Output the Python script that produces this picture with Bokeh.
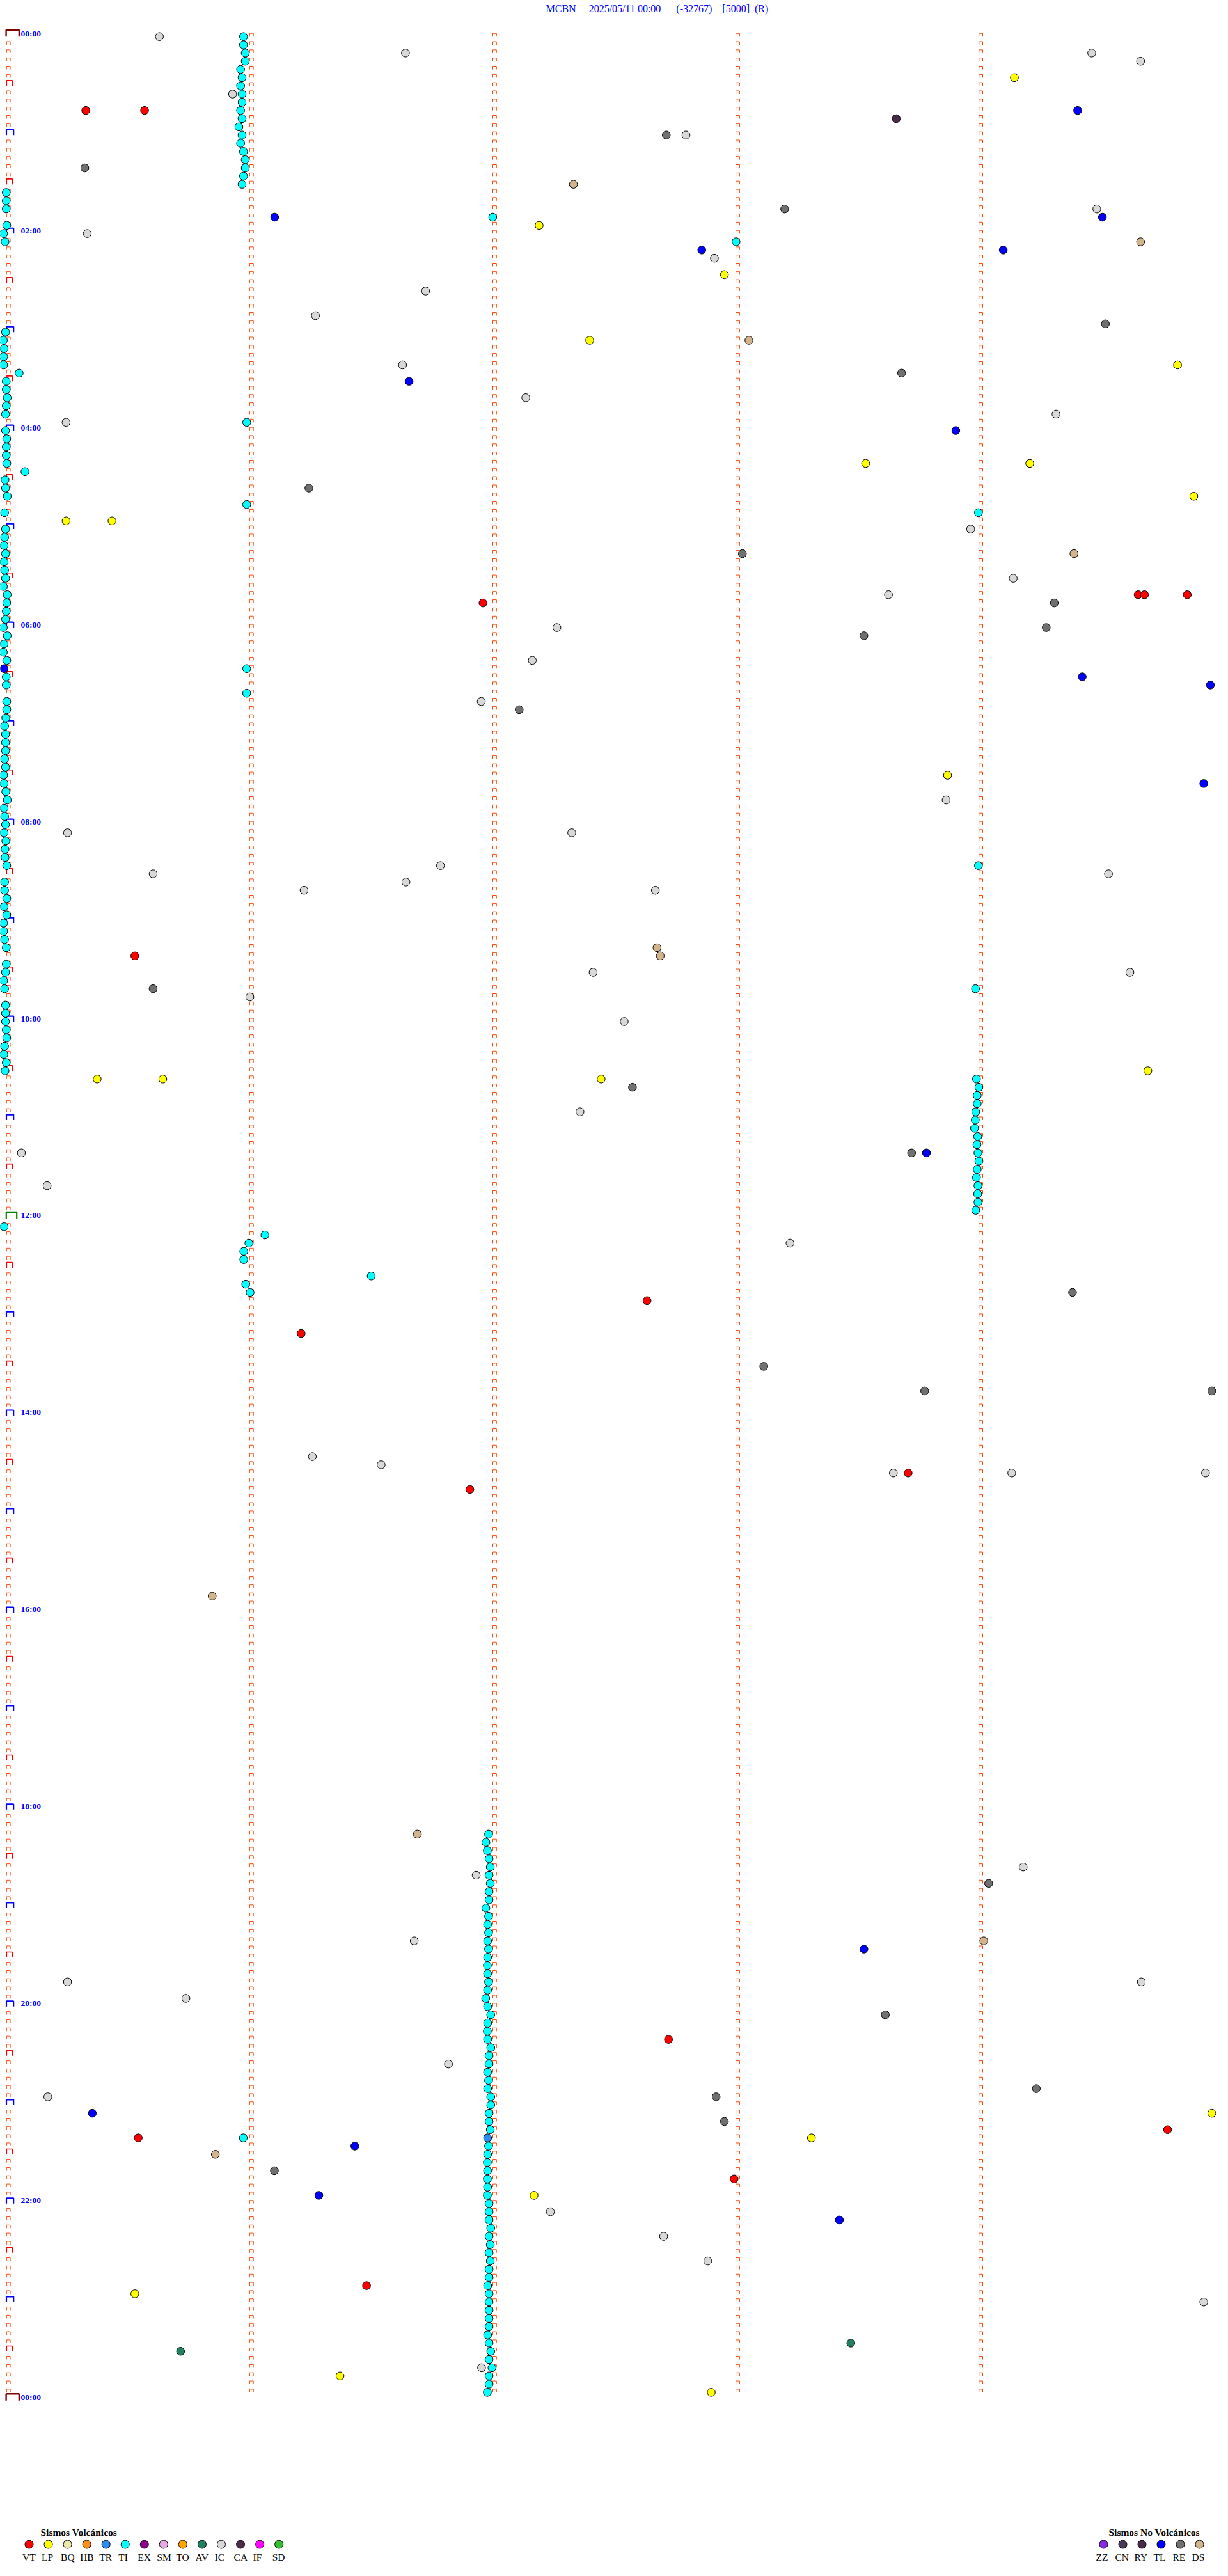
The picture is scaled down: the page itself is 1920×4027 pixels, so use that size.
from bokeh.plotting import figure
from bokeh.models import Range1d
from bokeh.embed import file_html
from bokeh.resources import INLINE
from bokeh.core.properties import value

# ---------------- data ----------------
TITLE = ("MCBN" + "\u00a0" * 5 + "2025/05/11 00:00" + "\u00a0" * 6 + "(-32767)"
         + "\u00a0" * 4 + "[5000]" + "\u00a0" * 2 + "(R)")
TIME_LABELS = ["00:00", "02:00", "04:00", "06:00", "08:00", "10:00", "12:00",
               "14:00", "16:00", "18:00", "20:00", "22:00", "00:00"]
MINUTE_MARKS = [0, 1, 2, 3, 4]

VOLC_CODES = ["VT", "LP", "BQ", "HB", "TR", "TI", "EX", "SM", "TO", "AV", "IC", "CA", "IF", "SD"]
VOLC_COLORS = ["#FF0000", "#FFFF00", "#EEE8AA", "#FF8C1A", "#2A8CF0", "#00FFFF", "#8B008B",
               "#E8A8E8", "#FFA500", "#208060", "#D8D8D8", "#4A2A48", "#FF00FF", "#30C030"]
NOVOLC_CODES = ["ZZ", "CN", "RY", "TL", "RE", "DS"]
NOVOLC_COLORS = ["#8A2BE2", "#4A3A5A", "#4A2A48", "#0000FF", "#707070", "#D2B48C"]

# row start time (HH:MM) and minute offset inside the 5-minute row
TI_T = ["00:00", "00:05", "00:10", "00:15", "00:20", "00:25", "00:30", "00:35", "00:40", "00:45",
        "00:50", "00:55", "01:00", "01:05", "01:10", "01:15", "01:20", "01:25", "01:30",
        "01:35", "01:40", "01:45", "01:55", "02:00", "02:05", "03:00", "03:05", "03:10", "03:15",
        "03:20", "03:25", "03:30", "03:35", "03:40", "03:45", "03:50", "04:00", "04:05", "04:10",
        "04:15", "04:20", "04:25", "04:30", "04:35", "04:40", "04:50", "05:00", "05:05", "05:10",
        "05:15", "05:20", "05:25", "05:30", "05:35", "05:40", "05:45", "05:50", "05:55", "06:00",
        "06:05", "06:10", "06:15", "06:20", "06:30", "06:35", "06:45", "06:50", "06:55", "07:00",
        "07:05", "07:10", "07:15", "07:20", "07:25", "07:30", "07:35", "07:40", "07:45", "07:50",
        "07:55", "08:00", "08:05", "08:10", "08:15", "08:20", "08:25", "08:35", "08:40", "08:45",
        "08:50", "08:55", "09:00", "09:05", "09:10", "09:15", "09:25", "09:30", "09:35", "09:40",
        "09:50", "09:55", "10:00", "10:05", "10:10", "10:15", "10:20", "10:25", "10:30", "12:05",
        "03:55", "04:45", "06:25", "06:40", "12:10", "12:15", "12:20", "12:25", "12:35", "12:40",
        "12:45", "21:20", "01:50", "02:05", "04:50", "08:25", "09:40",
        "10:35", "10:40", "10:45", "10:50", "10:55", "11:00", "11:05", "11:10", "11:15", "11:20",
        "11:25", "11:30", "11:35", "11:40", "11:45", "11:50", "11:55",
        "18:15", "18:20", "18:25", "18:30", "18:35", "18:40", "18:45", "18:50", "18:55", "19:00",
        "19:05", "19:10", "19:15", "19:20", "19:25", "19:30", "19:35", "19:40", "19:45", "19:50",
        "19:55", "20:00", "20:05", "20:10", "20:15", "20:20", "20:25", "20:30", "20:35", "20:40",
        "20:45", "20:50", "20:55", "21:00", "21:05", "21:10", "21:15", "21:25", "21:30", "21:35",
        "21:40", "21:45", "21:50", "21:55", "22:00", "22:05", "22:10", "22:15", "22:20", "22:25",
        "22:30", "22:35", "22:40", "22:45", "22:50", "22:55", "23:00", "23:05", "23:10", "23:15",
        "23:20", "23:25", "23:30", "23:35", "23:40", "23:45", "23:50", "23:55"]
TI_M = [0.967, 0.967, 0.974, 0.974, 0.955, 0.961, 0.955, 0.961, 0.961, 0.955,
        0.961, 0.948, 0.961, 0.955, 0.967, 0.974, 0.974, 0.967, 0.961,
        -0.009, -0.009, -0.009, -0.007, -0.020, -0.014, -0.012, -0.021, -0.018, -0.020,
        -0.020, 0.044, -0.009, -0.009, -0.005, -0.009, -0.012, -0.012, -0.007, -0.009,
        -0.009, -0.007, 0.068, -0.014, -0.012, -0.005, -0.016, -0.012, -0.016, -0.018,
        -0.012, -0.018, -0.016, -0.012, -0.021, -0.005, -0.007, -0.009, -0.012, -0.021,
        -0.005, -0.018, -0.021, -0.007, -0.009, -0.009, -0.007, -0.007, -0.011, -0.016,
        -0.012, -0.012, -0.012, -0.016, -0.012, -0.020, -0.018, -0.011, -0.005, -0.018,
        -0.016, -0.012, -0.018, -0.011, -0.014, -0.014, -0.007, -0.016, -0.016, -0.007,
        -0.018, -0.007, -0.020, -0.020, -0.016, -0.009, -0.009, -0.012, -0.020, -0.016,
        -0.012, -0.012, -0.012, -0.009, -0.007, -0.016, -0.019, -0.009, -0.014, -0.018,
        0.980, 0.980, 0.980, 0.980, 1.055, 0.989, 0.968, 0.968, 1.492, 0.976,
        0.994, 0.966, 1.992, 2.993, 3.990, 3.990, 3.978,
        3.982, 3.992, 3.985, 3.985, 3.979, 3.977, 3.974, 3.987, 3.984, 3.988,
        3.992, 3.985, 3.982, 3.988, 3.987, 3.988, 3.979,
        1.975, 1.964, 1.970, 1.977, 1.982, 1.977, 1.982, 1.977, 1.977, 1.964,
        1.975, 1.971, 1.975, 1.971, 1.975, 1.971, 1.970, 1.971, 1.975, 1.971,
        1.963, 1.971, 1.984, 1.971, 1.970, 1.971, 1.984, 1.977, 1.977, 1.971,
        1.975, 1.971, 1.984, 1.984, 1.977, 1.977, 1.982, 1.975, 1.971, 1.970,
        1.971, 1.970, 1.971, 1.970, 1.977, 1.977, 1.977, 1.984, 1.977, 1.982,
        1.977, 1.982, 1.977, 1.977, 1.971, 1.977, 1.977, 1.977, 1.977, 1.977,
        1.971, 1.977, 1.984, 1.977, 1.989, 1.977, 1.977, 1.970]

IC_T = ["00:00", "00:10", "00:10", "00:15", "00:35", "01:00", "01:45", "02:00", "02:15", "02:35",
        "02:50", "03:20", "03:40", "03:50", "03:55", "05:00", "05:30", "05:40", "06:00", "06:20",
        "06:45", "07:45", "08:05", "08:05", "08:25", "08:30", "08:30", "08:35", "08:40", "08:40",
        "09:30", "09:30", "09:45", "10:00", "10:55", "11:20", "11:40", "12:15", "14:25", "14:30",
        "14:35", "14:35", "14:35", "18:35", "18:40", "19:20", "19:45", "19:45", "19:55", "20:35",
        "20:55", "22:05", "22:20", "22:35", "23:00", "23:40"]
IC_M = [0.621, 1.633, 4.456, 4.657, 0.922, 2.787, 4.477, 0.324, 2.904, 1.716,
        1.263, 1.621, 2.128, 4.309, 0.237, 3.958, 4.133, 3.620, 2.256, 2.155,
        1.945, 3.857, 0.243, 2.317, 1.777, 0.595, 4.525, 1.635, 1.216, 2.661,
        2.405, 4.613, 0.993, 2.533, 2.351, 0.053, 0.159, 3.215, 1.250, 1.533,
        3.640, 4.127, 4.924, 4.174, 1.924, 1.669, 0.243, 4.660, 0.730, 1.810,
        0.162, 2.229, 2.695, 2.877, 4.917, 1.946]

RE_T = ["01:00", "01:20", "01:45", "02:55", "03:25", "04:35", "05:15", "05:45", "06:00", "06:05",
        "06:50", "09:40", "10:40", "11:20", "12:45", "13:30", "13:45", "13:45", "18:45", "20:05",
        "20:50", "20:55", "21:10", "21:40"]
RE_M = [2.706, 0.314, 3.193, 4.512, 3.674, 1.236, 3.019, 4.302, 4.269, 3.519,
        2.101, 0.595, 2.567, 3.715, 4.377, 3.107, 3.769, 4.950, 4.032, 3.607,
        4.228, 2.911, 2.945, 1.094]

TL_T = ["00:45", "01:50", "01:50", "02:10", "02:10", "03:30", "04:00", "06:25", "06:30", "06:35",
        "07:35", "11:20", "19:25", "21:05", "21:25", "21:55", "22:10"]
TL_M = [4.398, 1.095, 4.500, 2.852, 4.092, 1.648, 3.897, -0.018, 4.417, 4.944,
        4.917, 3.776, 3.519, 0.345, 1.425, 1.277, 3.418]

VT_T = ["00:45", "00:45", "05:40", "05:40", "05:40", "05:45", "09:20", "12:50", "13:10", "14:35",
        "14:45", "20:20", "21:15", "21:20", "21:45", "22:50"]
VT_M = [0.318, 0.560, 4.647, 4.673, 4.849, 1.952, 0.520, 2.627, 1.204, 3.701,
        1.898, 2.715, 4.768, 0.534, 2.985, 1.473]

LP_T = ["00:25", "01:55", "02:25", "03:05", "03:20", "04:20", "04:20", "04:40", "04:55", "04:55",
        "07:30", "10:30", "10:35", "10:35", "10:35", "21:05", "21:20", "21:55", "22:55", "23:45",
        "23:55"]
LP_M = [4.138, 2.183, 2.945, 2.391, 4.809, 3.526, 4.201, 4.876, 0.237, 0.426,
        3.863, 4.687, 0.365, 0.635, 2.438, 4.950, 3.303, 2.162, 0.520, 1.364,
        2.891]

DS_T = ["01:30", "02:05", "03:05", "05:15", "09:15", "09:20", "15:50", "18:15", "19:20", "21:30"]
DS_M = [2.324, 4.657, 3.046, 4.383, 2.668, 2.681, 0.838, 1.682, 4.012, 0.851]

CA_T = ["00:50"]
CA_M = [3.652]
AV_T = ["23:25", "23:30"]
AV_M = [3.465, 0.708]
TR_T = ["21:20"]
TR_M = [1.971]

# ---------------- geometry (style) ----------------
W, H = 1904, 4011
PAGE = 0             # screen offset of the figure's top-left corner
PXM = 380.1          # px per minute inside a row
PXH = 153.98         # px per hour (12 rows of 5 min)
OX, OY = 12.7, 56.7  # screen px of minute 0 / 00:00 baseline
TXT = 5.0            # text baseline correction (px)
N_ROWS = 288


def dx(px):
    return (px - OX) / PXM


def dy(px):
    return (px - OY) / PXH


def hours(t):
    h, m = t.split(":")
    return int(h) + int(m) / 60.0


p = figure(width=W, height=H, output_backend="svg", toolbar_location=None,
           x_range=Range1d(dx(PAGE), dx(PAGE + W)),
           y_range=Range1d(dy(PAGE + H), dy(PAGE)),
           x_axis_location=None, y_axis_location=None, min_border=0,
           outline_line_color=None, background_fill_color="white")
p.grid.visible = False


def bracket(xm, yh, left, width, height):
    x0 = xm + left / PXM
    x1 = x0 + width / PXM
    yt = yh - height / PXH
    return [x0, x0, x1, x1], [yh, yt, yt, yh]


groups = {"small": ([], []), "half": ([], []), "hour": ([], []), "day": ([], []), "noon": ([], [])}
for c in MINUTE_MARKS:
    for r in range(N_ROWS + (1 if c == 0 else 0)):
        yh = r * 5 / 60.0
        kind = "small"
        if c == 0:
            if r % 144 == 0:
                kind = "noon" if (r // 144) % 2 == 1 else "day"
            elif r % 12 == 0:
                kind = "hour"
            elif r % 6 == 0:
                kind = "half"
        spec = {"small": (-2.9, 5.8, 5.0), "half": (-2.9, 9.0, 8.3), "hour": (-3.2, 11.2, 8.4),
                "day": (-3.6, 20.3, 10.5), "noon": (-3.4, 16.4, 10.0)}[kind]
        xs, ys = bracket(c, yh, *spec)
        groups[kind][0].append(xs)
        groups[kind][1].append(ys)

styles = {"small": ("#FF4500", 1.0), "half": ("#FF0000", 1.6), "hour": ("#0000FF", 2.2),
          "day": ("#800000", 2.4), "noon": ("#008000", 2.2)}
for kind, (xs, ys) in groups.items():
    col, lw = styles[kind]
    p.multi_line(xs, ys, line_color=col, line_width=lw)

# hour labels every two hours
lab_rows = [i * 24 for i in range(len(TIME_LABELS))]
p.text(x=[dx(32.0)] * len(TIME_LABELS), y=[r * 5 / 60.0 - TXT / PXH for r in lab_rows],
       text=TIME_LABELS, text_font=value("Liberation Serif"), text_font_style="bold",
       text_font_size="13.5px", text_color="#0000FF", text_baseline="alphabetic",
       text_align="left")

# title
p.text(x=[dx(853)], y=[dy(18.3 - TXT)], text=[TITLE], text_font=value("Liberation Serif"),
       text_font_size="16px", text_color="#0000FF", text_baseline="alphabetic", text_align="left")

# events
col_of = dict(zip(VOLC_CODES + NOVOLC_CODES, VOLC_COLORS + NOVOLC_COLORS))
events = [("DS", DS_T, DS_M), ("IC", IC_T, IC_M), ("RE", RE_T, RE_M), ("CA", CA_T, CA_M),
          ("AV", AV_T, AV_M), ("LP", LP_T, LP_M), ("VT", VT_T, VT_M), ("TL", TL_T, TL_M),
          ("TI", TI_T, TI_M), ("TR", TR_T, TR_M)]
for code, ts, ms in events:
    p.scatter(x=ms, y=[hours(t) for t in ts], marker="circle", size=12.5,
              fill_color=col_of[code], line_color="black", line_width=1)

# legends
def legend(codes, colors, title, title_left, circ0, lab0, step):
    n = len(codes)
    p.text(x=[dx(title_left)], y=[dy(3962.5 - TXT)], text=[title],
           text_font=value("Liberation Serif"), text_font_style="bold",
           text_font_size="15.5px", text_color="black", text_baseline="alphabetic")
    p.scatter(x=[dx(circ0 + step * i) for i in range(n)], y=[dy(3977)] * n, marker="circle",
              size=13, fill_color=colors, line_color="black", line_width=1)
    p.text(x=[dx(lab0 + step * i) for i in range(n)], y=[dy(4001.5 - TXT)] * n, text=codes,
           text_font=value("Liberation Serif"), text_font_size="15.5px", text_color="black",
           text_baseline="alphabetic", text_align="left")


legend(VOLC_CODES, VOLC_COLORS, "Sismos Volcánicos", 63, 45, 34.5, 30.05)
legend(NOVOLC_CODES, NOVOLC_COLORS, "Sismos No Volcánicos", 1733, 1725, 1713, 30.0)

open("out.html", "w").write(file_html(p, INLINE))
